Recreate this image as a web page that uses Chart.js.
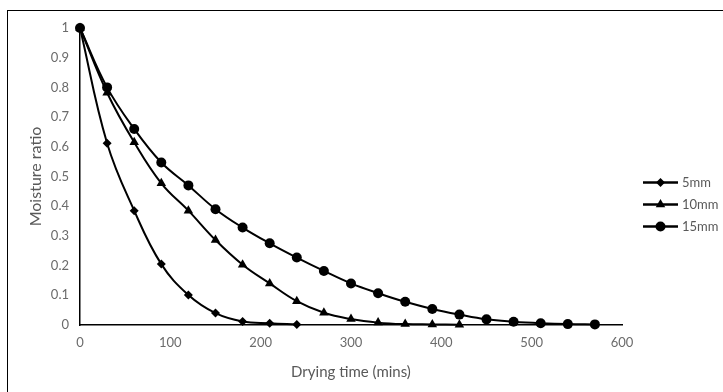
<!DOCTYPE html>
<html>
<head>
<meta charset="utf-8">
<script src="https://cdn.jsdelivr.net/npm/chart.js@4"></script>
<style>
    html, body { margin: 0; padding: 0; background: #fff; }
    #wrap { position: relative; width: 723px; height: 392px; overflow: hidden; }
    #frame {
        position: absolute; left: 7px; top: 10px; width: 730px; height: 400px;
        border-left: 1.5px solid #000; border-top: 1.5px solid #000;
    }
    canvas { position: absolute; left: 0; top: 0; }
</style>
</head>
<body>
<div id="wrap">
    <div id="frame"></div>
    <canvas id="drying_chart" width="723" height="392"></canvas>
</div>
<script>
// drying time (mins), one reading every 30 mins
const minutes = [0, 30, 60, 90, 120, 150, 180, 210, 240, 270, 300, 330, 360, 390, 420, 450, 480, 510, 540, 570];

// moisture ratio per slice thickness
const ratio5mm = [1, 0.612, 0.385, 0.205, 0.101, 0.040, 0.012, 0.006, 0.002];
const ratio10mm = [1, 0.782, 0.615, 0.477, 0.385, 0.286, 0.203, 0.140, 0.080, 0.041, 0.020, 0.008, 0.003, 0.002, 0.001];
const ratio15mm = [1, 0.800, 0.660, 0.547, 0.470, 0.390, 0.328, 0.275, 0.227, 0.182, 0.140, 0.107, 0.078, 0.054, 0.035, 0.019, 0.011, 0.006, 0.003, 0.002];

const seriesLabels = ['5mm', '10mm', '15mm'];
const xTicks = [0, 100, 200, 300, 400, 500, 600];
const yTicks = [0, 0.1, 0.2, 0.3, 0.4, 0.5, 0.6, 0.7, 0.8, 0.9, 1];

const toPoints = values => values.map((v, i) => ({ x: minutes[i], y: v }));

const baseDataSet = {
    borderColor: '#000',
    backgroundColor: '#000',
    borderWidth: 2,
    pointBorderWidth: 0,
    tension: 0.4,
    clip: false
};

const datasets = [
    { ...baseDataSet, label: seriesLabels[0], data: toPoints(ratio5mm), pointStyle: 'rectRot', pointRadius: 4.5 },
    { ...baseDataSet, label: seriesLabels[1], data: toPoints(ratio10mm), pointStyle: 'triangle', pointRadius: 5.5 },
    { ...baseDataSet, label: seriesLabels[2], data: toPoints(ratio15mm), pointStyle: 'circle', pointRadius: 5 }
];

// legend on the right: a short line with the marker on it, then the label
const lineLegend = {
    id: 'lineLegend',
    afterDraw(chart) {
        const ctx = chart.ctx;
        ctx.save();
        chart.data.datasets.forEach((ds, i) => {
            const y = 182.5 + i * 22;
            ctx.strokeStyle = '#000';
            ctx.lineWidth = 2.5;
            ctx.beginPath();
            ctx.moveTo(643, y);
            ctx.lineTo(678, y);
            ctx.stroke();
            ctx.fillStyle = '#000';
            Chart.helpers.drawPoint(ctx, {
                pointStyle: ds.pointStyle,
                radius: ds.pointRadius,
                rotation: 0,
                borderWidth: 0
            }, 660.5, y);
            ctx.fillStyle = '#595959';
            ctx.font = '13px Lato';
            ctx.textAlign = 'left';
            ctx.textBaseline = 'middle';
            ctx.fillText(ds.label, 682, y);
        });
        ctx.restore();
    }
};

const axisFont = { family: 'Lato', size: 13 };

new Chart(document.getElementById('drying_chart'), {
    type: 'line',
    data: { datasets: datasets },
    options: {
        responsive: false,
        animation: false,
        layout: { padding: { left: 0, top: 28, right: 101, bottom: 0 } },
        plugins: {
            legend: { display: false },
            tooltip: { enabled: false }
        },
        scales: {
            x: {
                type: 'linear',
                min: 0,
                max: 600,
                afterFit: scale => { scale.height = 67; },
                afterBuildTicks: scale => { scale.ticks = xTicks.map(v => ({ value: v })); },
                grid: { display: false, drawTicks: false },
                border: { display: true, color: '#000', width: 1.5 },
                ticks: { color: '#6b6b6b', font: axisFont, padding: 10 },
                title: { display: true, text: 'Drying time (mins)', color: '#595959', font: { family: 'Lato', size: 15 }, padding: { top: 0, bottom: 11 } }
            },
            y: {
                min: 0,
                max: 1,
                afterFit: scale => { scale.width = 80; },
                afterBuildTicks: scale => { scale.ticks = yTicks.map(v => ({ value: v })); },
                grid: { display: false, drawTicks: false },
                border: { display: true, color: '#000', width: 1.5 },
                ticks: { color: '#6b6b6b', font: axisFont, padding: 11, callback: v => String(+v.toFixed(1)) },
                title: { display: true, text: 'Moisture ratio', color: '#595959', font: { family: 'Lato', size: 16 }, padding: { top: 26, bottom: 0 } }
            }
        }
    },
    plugins: [lineLegend]
});
</script>
</body>
</html>
